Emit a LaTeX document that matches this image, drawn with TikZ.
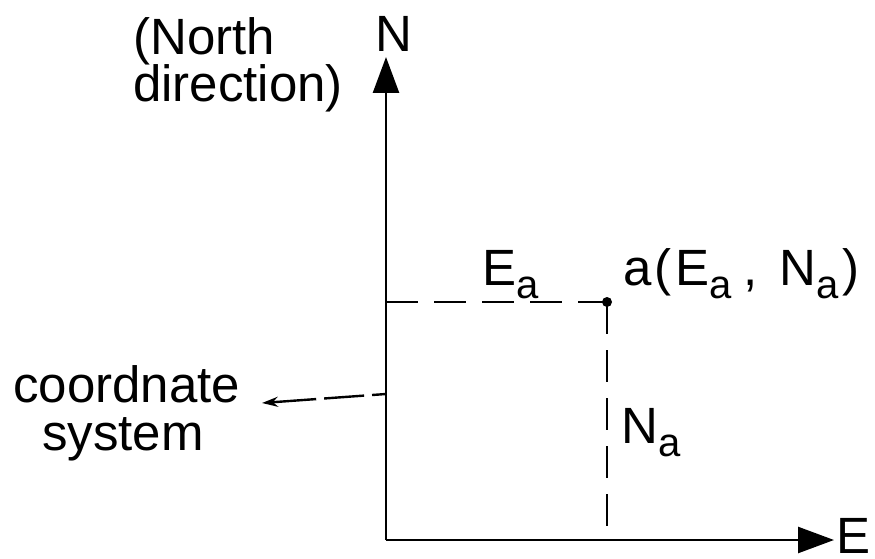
\documentclass[tikz,border=0pt]{standalone}
\usepackage{fontspec}
\setmainfont{Liberation Sans}
\usetikzlibrary{arrows.meta}
\newcommand{\subA}{\raisebox{-0.26em}{\fontsize{40}{40}\selectfont a}}
\begin{document}
\begin{tikzpicture}[x=1pt,y=-1pt,
  lbl/.style={anchor=base west, inner sep=0pt, font=\fontsize{51}{56}\selectfont},
  axisln/.style={line width=2.6pt, -{Triangle[length=36pt,width=26pt]}},
  dashln/.style={line width=2.4pt, dash pattern=on 32pt off 16pt},
  leader/.style={line width=2.4pt, dash pattern=on 14pt off 8pt on 40pt off 8pt on 80pt,
    -{Stealth[length=16pt,width=10pt]}},
  ]
\useasboundingbox (0,0) rectangle (875,559);
% axes
\coordinate (O) at (386,540);
\coordinate (Ntip) at (386,57);
\coordinate (Etip) at (834,540);
\draw[axisln] (O) -- (Ntip);
\draw[axisln] (O) -- (Etip);
% point a and its projections
\coordinate (A) at (607,302);
\coordinate (Ay) at (386,302);
\coordinate (Ax) at (607,540);
\draw[dashln] (Ay) -- (A);
\draw[dashln] (A) -- (Ax);
\fill (A) circle (5pt);
% labels
\node[lbl] (northa) at (133,55) {(North};
\node[lbl] (northb) at (133,102) {direction)};
\node[lbl] (nlab) at (375,52) {N};
\node[lbl] (elab) at (836,553) {E};
\node[lbl] (ea) at (482,285) {E\subA};
\node[lbl] (alab) at (623,285) {a\hspace{3pt}(\hspace{4pt}E\subA\hspace{12pt},\hspace{22pt}N\subA\hspace{3pt})};
\node[lbl] (na) at (621,443) {N\subA};
\node[lbl] (cs1) at (13,402) {coordnate};
\node[lbl] (cs2) at (42,450) {system};
% leader
\coordinate (L1) at (386,394);
\coordinate (L2) at (262,403);
\draw[leader] (L1) -- (L2);
\end{tikzpicture}
\end{document}
